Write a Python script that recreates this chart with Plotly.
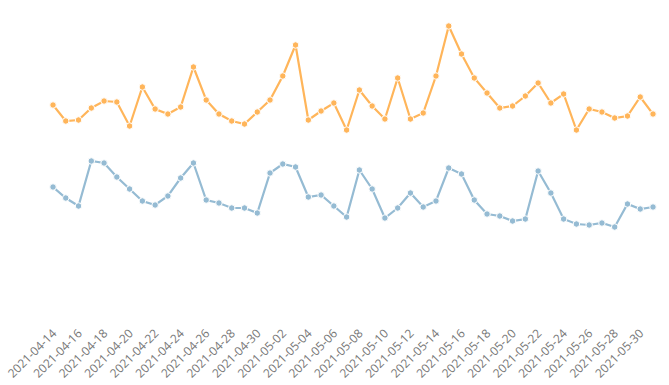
import plotly.graph_objects as go
import pandas as pd

dates = pd.date_range("2021-04-14", "2021-05-31", freq="D").strftime("%Y-%m-%d").tolist()

series_a = [185, 169, 170, 182, 189, 188, 164, 203, 181, 176, 183, 223, 190, 176, 169, 166,
            178, 190, 214, 245, 170, 179, 187, 160, 200, 184, 171, 212, 171, 177, 214, 264,
            236, 212, 197, 182, 184, 194, 207, 187, 196, 160, 181, 178, 172, 174, 193, 176]

series_b = [103, 92, 84, 129, 127, 113, 101, 89, 85, 94, 112, 127, 90, 87, 82, 82,
            77, 117, 126, 123, 93, 95, 84, 73, 120, 101, 72, 82, 97, 83, 89, 122,
            116, 90, 76, 74, 69, 71, 119, 97, 71, 66, 65, 67, 63, 86, 81, 83]

colors = ["#ffb55a", "#95bbd3"]

fig = go.Figure()
for vals, c, name in [(series_a, colors[0], "A"), (series_b, colors[1], "B")]:
    fig.add_trace(go.Scatter(
        x=dates, y=vals, mode="lines+markers", name=name,
        line=dict(color=c, width=2.2),
        marker=dict(color=c, size=6.5, line=dict(color="white", width=1)),
        cliponaxis=False,
    ))

fig.update_layout(
    width=669, height=385,
    margin=dict(l=53, r=16, t=10, b=62, autoexpand=False),
    paper_bgcolor="white", plot_bgcolor="white",
    showlegend=False,
    font=dict(family="Open Sans", size=12, color="#666"),
)
fig.update_xaxes(
    type="date", range=["2021-04-14", "2021-05-31"], automargin=False,
    tick0="2021-04-14", dtick=2 * 86400000, tickformat="%Y-%m-%d",
    tickangle=-45, showgrid=False, zeroline=False, showline=False,
    tickfont=dict(size=12, color="#777"),
)
fig.update_yaxes(range=[-33, 280], visible=False, showgrid=False, zeroline=False, automargin=False)

fig.write_html("out.html", config={"displayModeBar": False},
               post_script="document.body.style.margin='0';document.body.style.overflow='hidden';")
